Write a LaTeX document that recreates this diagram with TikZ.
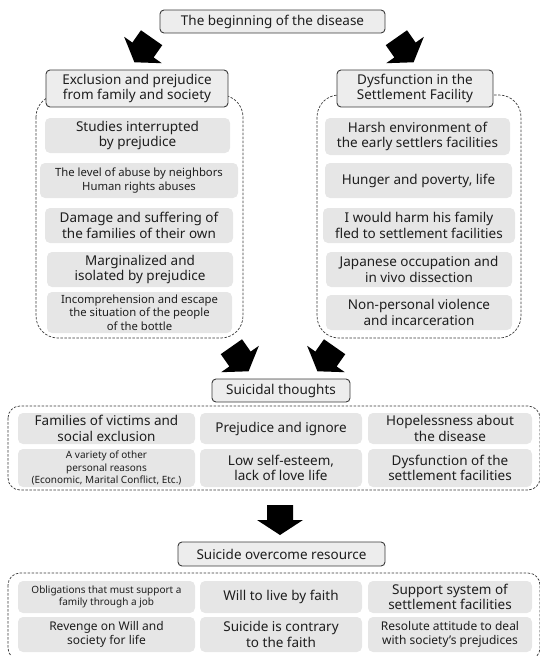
\documentclass[tikz,border=0pt]{standalone}
\usepackage{fontspec}
\setmainfont{Noto Sans}
\definecolor{boxfill}{HTML}{E6E6E6}
\definecolor{headfill}{HTML}{EDEDED}
\definecolor{lineclr}{HTML}{3A3A3A}
\definecolor{txt}{HTML}{1E1E1E}
\newcommand{\blockarrow}[3]{%
  \begin{scope}[shift={(#1,#2)}, rotate=#3]
    \fill[black] (-13,-15) -- (13,-15) -- (13,0) -- (23,0) -- (0,15) -- (-23,0) -- (-13,0) -- cycle;
  \end{scope}}
\begin{document}
\begin{tikzpicture}[x=1pt,y=-1pt,
  head/.style={draw=lineclr, line width=0.9pt, fill=headfill, rounded corners=4pt, inner sep=0pt, align=center, text=txt, font=\fontsize{13.5}{15.5}\selectfont},
  ibox/.style={fill=boxfill, rounded corners=5pt, inner sep=0pt, align=center, text=txt},
  big/.style={font=\fontsize{13.5}{15.5}\selectfont},
  mid/.style={font=\fontsize{12}{14}\selectfont},
  sml/.style={font=\fontsize{11.3}{13.5}\selectfont},
  tiny/.style={font=\fontsize{10}{12.3}\selectfont},
  cont/.style={draw=lineclr, line width=0.7pt, dash pattern=on 2.5pt off 1.5pt},
  lcol/.style={ibox, minimum width=177pt},
  ccol/.style={ibox, minimum width=162pt},
  rcol/.style={ibox, minimum width=164pt}
]
\useasboundingbox (0,0) rectangle (539,656);

% dashed containers
\draw[cont, rounded corners=22pt] (36,95) rectangle (243,338);
\draw[cont, rounded corners=22pt] (317,95) rectangle (521,338);
\draw[cont, rounded corners=12pt] (8,406) rectangle (540,490);
\draw[cont, rounded corners=12pt] (8,573) rectangle (540,660);

% headers
\node[head, minimum width=225pt, minimum height=23pt] (top) at (272.5,21.5) {The beginning of the disease};
\node[head, minimum width=182pt, minimum height=37pt] (lhead) at (137,88.5) {Exclusion and prejudice\\from family and society};
\node[head, minimum width=156pt, minimum height=37pt] (rhead) at (415,88.5) {Dysfunction in the\\Settlement Facility};
\node[head, minimum width=138pt, minimum height=23pt] (think) at (281,390.5) {Suicidal thoughts};
\node[head, minimum width=207pt, minimum height=24pt] (res) at (281.5,554) {Suicide overcome resource};

% left column
\node[ibox, big, minimum width=185pt, minimum height=35pt] (l1) at (137.5,135.5) {Studies interrupted\\by prejudice};
\node[ibox, sml, minimum width=198pt, minimum height=35pt] (l2) at (139,180.5) {The level of abuse by neighbors\\Human rights abuses};
\node[ibox, big, minimum width=188pt, minimum height=35pt] (l3) at (139,225.5) {Damage and suffering of\\the families of their own};
\node[ibox, big, minimum width=186pt, minimum height=35pt] (l4) at (140,269.5) {Marginalized and\\isolated by prejudice};
\node[ibox, sml, minimum width=185pt, minimum height=41pt] (l5) at (139.5,312.5) {Incomprehension and escape\\the situation of the people\\of the bottle};

% right column
\node[ibox, big, minimum width=185pt, minimum height=37pt] (r1) at (417.5,136.5) {Harsh environment of\\the early settlers facilities};
\node[ibox, big, minimum width=187pt, minimum height=35pt] (r2) at (418.5,180.5) {Hunger and poverty, life};
\node[ibox, big, minimum width=192pt, minimum height=35pt] (r3) at (419,225.5) {I would harm his family\\fled to settlement facilities};
\node[ibox, big, minimum width=186pt, minimum height=35pt] (r4) at (419,269.5) {Japanese occupation and\\in vivo dissection};
\node[ibox, big, minimum width=186pt, minimum height=35pt] (r5) at (419,312.5) {Non-personal violence\\and incarceration};

% suicidal thoughts grid
\node[lcol, big, minimum height=31pt] (t11) at (106.5,428.5) {Families of victims and\\social exclusion};
\node[ccol, big, minimum height=31pt] (t12) at (281,428.5) {Prejudice and ignore};
\node[rcol, big, minimum height=31pt] (t13) at (450,428.5) {Hopelessness about\\the disease};
\node[lcol, tiny, minimum height=38pt] (t21) at (106.5,468) {A variety of other\\personal reasons\\(Economic, Marital Conflict, Etc.)};
\node[ccol, big, minimum height=38pt] (t22) at (281,468) {Low self-esteem,\\lack of love life};
\node[rcol, big, minimum height=38pt] (t23) at (450,468) {Dysfunction of the\\settlement facilities};

% resource grid
\node[lcol, tiny, minimum height=32pt] (b11) at (106.5,597) {Obligations that must support a\\family through a job};
\node[ccol, big, minimum height=32pt] (b12) at (281,597) {Will to live by faith};
\node[rcol, big, minimum height=32pt] (b13) at (450,597) {Support system of\\settlement facilities};
\node[lcol, mid, minimum height=35pt] (b21) at (106.5,634.5) {Revenge on Will and\\society for life};
\node[ccol, big, minimum height=35pt] (b22) at (281,634.5) {Suicide is contrary\\to the faith};
\node[rcol, mid, minimum height=35pt] (b23) at (450,634.5) {Resolute attitude to deal\\with society's prejudices};

% block arrows
\blockarrow{143}{50}{-35}
\blockarrow{405}{50}{35}
\blockarrow{240}{359}{35}
\blockarrow{326}{359}{-35}
\blockarrow{280}{520}{0}
\end{tikzpicture}
\end{document}
